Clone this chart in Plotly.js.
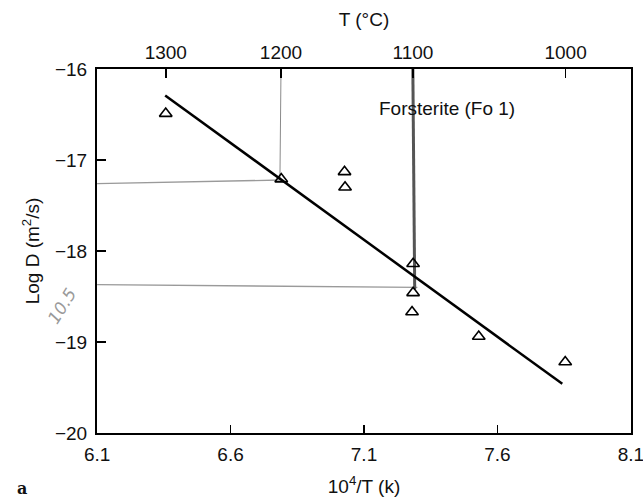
<!DOCTYPE html>
<html>
<head>
<meta charset="utf-8">
<script src="https://cdn.plot.ly/plotly-3.0.1.min.js"></script>
<style>html,body{margin:0;padding:0;background:#fff;}#chart{width:643px;height:504px;}</style>
</head>
<body>
<div id="chart"></div>
<script>
// Measured data (10^4/T in 1/K, log D in m^2/s)
const invT = [6.357, 6.790, 7.027, 7.029, 7.284, 7.284, 7.280, 7.530, 7.854];
const logD = [-16.49, -17.21, -17.13, -17.30, -18.14, -18.46, -18.67, -18.94, -19.22];

// Fitted Arrhenius line end points
const fitX = [6.355, 7.843];
const fitY = [-16.29, -19.46];

// Hand-drawn pencil guide lines
const guideH1X = [6.1, 6.79];  const guideH1Y = [-17.26, -17.22];
const guideH2X = [6.1, 7.30];  const guideH2Y = [-18.37, -18.40];
const guideV1X = [6.789, 6.785]; const guideV1Y = [-16.0, -17.2];
const guideV2X = [7.283, 7.290]; const guideV2Y = [-16.0, -18.42];

// Axis ticks
const xTicks = [6.1, 6.6, 7.1, 7.6, 8.1];
const xTickText = ['6.1', '6.6', '7.1', '7.6', '8.1'];
const yTicks = [-20, -19, -18, -17, -16];
const tempC = [1300, 1200, 1100, 1000];

const topTickVals = tempC.map(t => 10000 / (t + 273));
const topTickText = tempC.map(t => String(t));

const font = {family: 'Liberation Sans, Arial, sans-serif', size: 19, color: '#111'};

const traces = [
  {x: guideH1X, y: guideH1Y, mode: 'lines', line: {color: '#9a9a9a', width: 1.3}, hoverinfo: 'skip', showlegend: false},
  {x: guideH2X, y: guideH2Y, mode: 'lines', line: {color: '#9a9a9a', width: 1.3}, hoverinfo: 'skip', showlegend: false},
  {x: guideV1X, y: guideV1Y, mode: 'lines', line: {color: '#8a8a8a', width: 1}, hoverinfo: 'skip', showlegend: false},
  {x: guideV2X, y: guideV2Y, mode: 'lines', line: {color: '#555', width: 3}, hoverinfo: 'skip', showlegend: false},
  {x: fitX, y: fitY, mode: 'lines', line: {color: '#000', width: 2.5}, showlegend: false},
  {x: invT, y: logD, mode: 'markers', marker: {symbol: 'triangle-up-open', size: 11, color: '#000', line: {width: 1.6, color: '#000'}}, showlegend: false},
  {x: [6.1, 8.1], y: [-30, -30], xaxis: 'x2', mode: 'lines', line: {width: 0}, hoverinfo: 'skip', showlegend: false}
];

const xr = [6.0995, 8.1005];
const M = {l: 97, r: 12, t: 69, b: 71};

const layout = {
  width: 643, height: 504,
  margin: M,
  paper_bgcolor: '#fff', plot_bgcolor: '#fff',
  font: font,
  showlegend: false,
  xaxis: {
    range: xr, tickvals: xTicks, ticktext: xTickText,
    ticks: 'inside', ticklen: 8, tickwidth: 1.5, tickcolor: '#000',
    showline: true, linecolor: '#000', linewidth: 2, mirror: true,
    showgrid: false, zeroline: false, ticklabelstandoff: 3,
    ticklabeloverflow: 'allow',
    title: {text: '10<sup>4</sup>/T (k)', font: font, standoff: 16}
  },
  xaxis2: {
    overlaying: 'x', side: 'top', range: xr,
    tickvals: topTickVals, ticktext: topTickText,
    ticks: 'inside', ticklen: 9, tickwidth: 1.5, tickcolor: '#000',
    showgrid: false, zeroline: false, showline: false, ticklabelstandoff: 5,
    title: {text: 'T (°C)', font: font, standoff: 10}
  },
  yaxis: {
    range: [-20, -16], tickvals: yTicks,
    ticks: 'inside', ticklen: 9, tickwidth: 1.5, tickcolor: '#000',
    showline: true, linecolor: '#000', linewidth: 2, mirror: true,
    showgrid: false, zeroline: false, ticklabelstandoff: 4,
    title: {text: 'Log D (m<sup>2</sup>/s)', font: font, standoff: 10}
  },
  annotations: [
    {x: 7.15, y: -16.43, xref: 'x', yref: 'y', text: 'Forsterite (Fo 1)', showarrow: false, xanchor: 'left', yanchor: 'middle', font: font},
    {x: 0, y: 0, xref: 'paper', yref: 'paper', text: '<b>a</b>', showarrow: false, xanchor: 'center', yanchor: 'middle', font: {family: 'DejaVu Serif, serif', size: 16, color: '#111'}},
    {x: 0, y: 0, xref: 'paper', yref: 'paper', text: '10.5', showarrow: false, textangle: -58, xanchor: 'center', yanchor: 'middle', font: {family: 'DejaVu Sans, sans-serif', size: 17, color: '#9a9a9a', style: 'italic'}}
  ]
};
// place page-pixel positioned notes via paper coords
(function(){
  const pw = 643 - M.l - M.r, ph = 504 - M.t - M.b;
  const px = x => (x - M.l) / pw, py = y => (504 - M.b - y) / ph;
  layout.annotations[1].x = px(22); layout.annotations[1].y = py(489);
  layout.annotations[2].x = px(62); layout.annotations[2].y = py(306);
})();

Plotly.newPlot('chart', traces, layout, {displayModeBar: false, staticPlot: true});
</script>
</body>
</html>
